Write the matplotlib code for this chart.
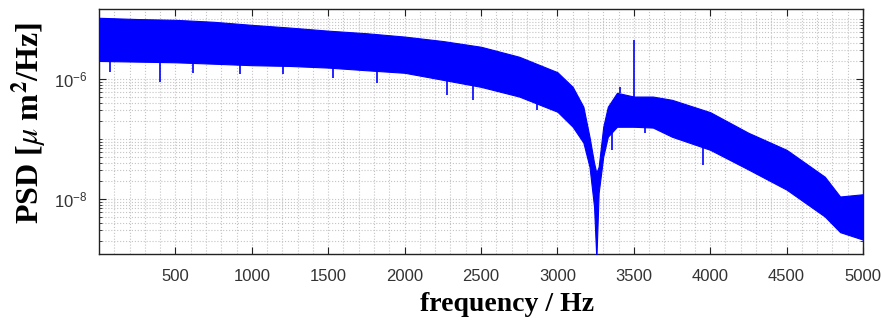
import numpy as np
import matplotlib
matplotlib.use("Agg")
import matplotlib.pyplot as plt
from matplotlib.ticker import FixedLocator, FixedFormatter, NullFormatter, MultipleLocator

# ---- data (PSD band envelope, um^2/Hz) ----
freq = [0, 250, 500, 750, 1000, 1250, 1500, 1750, 2000, 2250, 2500, 2750,
        3000, 3100, 3170, 3210, 3240, 3255, 3270, 3300, 3330, 3390, 3500,
        3625, 3750, 4000, 4250, 4500, 4750, 4850, 5000]
upper = [1.05e-5, 1.0e-5, 9.7e-6, 9.0e-6, 8.0e-6, 7.2e-6, 6.4e-6, 5.8e-6,
         5.1e-6, 4.3e-6, 3.45e-6, 2.35e-6, 1.3e-6, 7.4e-7, 3.45e-7, 1.09e-7,
         4.0e-8, 2.74e-8, 3.45e-8, 1.6e-7, 3.45e-7, 5.9e-7, 5.1e-7, 5.1e-7,
         4.5e-7, 2.8e-7, 1.27e-7, 6.6e-8, 2.35e-8, 1.1e-8, 1.2e-8]
lower = [2.0e-6, 1.95e-6, 1.9e-6, 1.8e-6, 1.7e-6, 1.65e-6, 1.55e-6, 1.4e-6,
         1.27e-6, 9.7e-7, 7.4e-7, 5.1e-7, 2.85e-7, 1.6e-7, 8.7e-8, 3.45e-8,
         7.4e-9, 1.0e-9, 1.27e-8, 5.1e-8, 1.09e-7, 1.6e-7, 1.6e-7, 1.55e-7,
         1.09e-7, 6.6e-8, 3.1e-8, 1.43e-8, 5.1e-9, 2.8e-9, 2.1e-9]

# isolated spikes (frequency, value)
spike_down_f = [72, 400, 615, 923, 1205, 1530, 1820, 2275, 2450, 2866, 3357, 3573, 3953]
spike_down_v = [1.3e-6, 9.0e-7, 1.25e-6, 1.2e-6, 1.2e-6, 1.05e-6, 8.6e-7, 5.5e-7,
                4.5e-7, 3.1e-7, 6.6e-8, 1.27e-7, 3.7e-8]
spike_up_f = [3500, 3410]
spike_up_v = [4.5e-6, 7.4e-7]

xticks = [500, 1000, 1500, 2000, 2500, 3000, 3500, 4000, 4500, 5000]
yticks = [1e-8, 1e-6]
ytick_labels = [r'$\mathregular{10^{-8}}$', r'$\mathregular{10^{-6}}$']

plt.rcParams['mathtext.fontset'] = 'stix'

fig = plt.figure(figsize=(8.81, 3.25), dpi=100)
ax = fig.add_axes([99/881, 1-254/325, (863-99)/881, (254-9)/325])

blue = '#0000ff'
ax.fill_between(freq, lower, upper, color=blue, lw=0.8, edgecolor=blue, zorder=3)

lf = np.log10(lower)
uf = np.log10(upper)
lo_at = 10**np.interp(spike_down_f, freq, lf)
up_at = 10**np.interp(spike_up_f, freq, uf)
ax.vlines(spike_down_f, spike_down_v, lo_at, color=blue, lw=1.2, zorder=3)
ax.vlines(spike_up_f, up_at, spike_up_v, color=blue, lw=1.2, zorder=3)

ax.set_yscale('log')
ax.set_xlim(0, 5000)
ax.set_ylim(1.21e-9, 1.47e-5)

ax.xaxis.set_major_locator(FixedLocator(xticks))
ax.xaxis.set_minor_locator(MultipleLocator(100))
ax.yaxis.set_major_locator(FixedLocator(yticks))
ax.yaxis.set_major_formatter(FixedFormatter(ytick_labels))
minor_y = [m * 10.0**e for e in range(-10, -3) for m in range(1, 10)]
ax.yaxis.set_minor_locator(FixedLocator(minor_y))
ax.yaxis.set_minor_formatter(NullFormatter())

ax.grid(True, which='both', axis='both', linestyle=':', color='#c4c4c4', lw=0.8, zorder=0)
ax.set_axisbelow(True)

ax.tick_params(which='both', direction='in', top=True, right=True, colors='#222222',
               labelcolor='#333333')
ax.tick_params(which='major', length=5, width=0.8)
ax.tick_params(axis='x', which='minor', length=0)
ax.tick_params(axis='y', which='minor', length=2.5, width=0.6)
for lab in ax.get_xticklabels() + ax.get_yticklabels():
    lab.set_family(['Liberation Sans', 'DejaVu Sans'])
    lab.set_fontsize(12)
ax.tick_params(axis='x', pad=10.5)
ax.tick_params(axis='y', pad=8)

for s in ax.spines.values():
    s.set_color('#222222')
    s.set_linewidth(1.0)

ax.set_xlabel('frequency / Hz', family='Liberation Serif', fontweight='bold',
              fontsize=20)
ax.xaxis.set_label_coords(0.534, -0.155)
ax.set_ylabel(r'PSD [$\mu$ m$^{\mathbf{2}}$/Hz]', family='Liberation Serif',
              fontweight='bold', fontsize=23)
ax.yaxis.set_label_coords(-0.066, 0.533)

fig.savefig('out.png', dpi=100)
